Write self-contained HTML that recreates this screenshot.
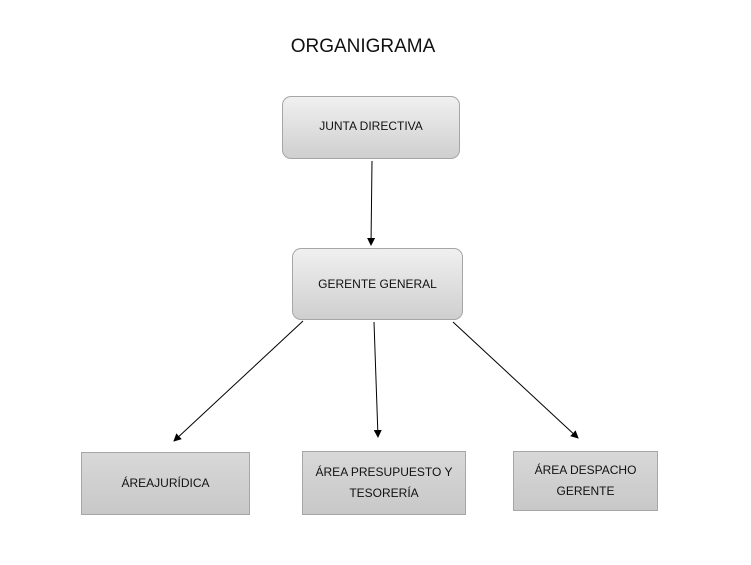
<!DOCTYPE html>
<html><head><meta charset="utf-8"><style>
body{margin:0;width:751px;height:565px;background:#fff;position:relative;font-family:"Liberation Sans",sans-serif;overflow:hidden}
.b{position:absolute;box-sizing:border-box;border:1px solid #a6a6a6;display:flex;align-items:center;justify-content:center;text-align:center;font-size:12px;color:#111;line-height:21px;background:linear-gradient(#f0f0f0,#cfcfcf)}
.r{border-radius:9px}
</style></head><body>
<div style="position:absolute;left:0;width:726px;top:36px;text-align:center;font-size:19px;color:#111">ORGANIGRAMA</div>
<div class="b r" style="left:282px;top:96px;width:178px;height:63px;padding-bottom:2px">JUNTA DIRECTIVA</div>
<div class="b r" style="left:292px;top:248px;width:171px;height:72px">GERENTE GENERAL</div>
<div class="b" style="left:81px;top:452px;width:169px;height:63px;background:linear-gradient(#d8d8d8,#c8c8c8)">ÁREAJURÍDICA</div>
<div class="b" style="left:302px;top:451px;width:164px;height:64px;background:linear-gradient(#d8d8d8,#c8c8c8)">ÁREA PRESUPUESTO Y<br>TESORERÍA</div>
<div class="b" style="left:513px;top:451px;width:145px;height:60px;background:linear-gradient(#d8d8d8,#c8c8c8)">ÁREA DESPACHO<br>GERENTE</div>
<svg width="751" height="565" style="position:absolute;left:0;top:0">
<defs><marker id="a" markerWidth="8" markerHeight="8" refX="7" refY="4" orient="auto" markerUnits="userSpaceOnUse"><path d="M0,0L8,4L0,8z" fill="#000"/></marker></defs>
<g stroke="#000" stroke-width="1" marker-end="url(#a)">
<line x1="372" y1="161" x2="371" y2="245"/>
<line x1="303" y1="321" x2="174" y2="441"/>
<line x1="374" y1="322" x2="378" y2="437"/>
<line x1="453" y1="322" x2="578" y2="438"/>
</g></svg>
</body></html>
